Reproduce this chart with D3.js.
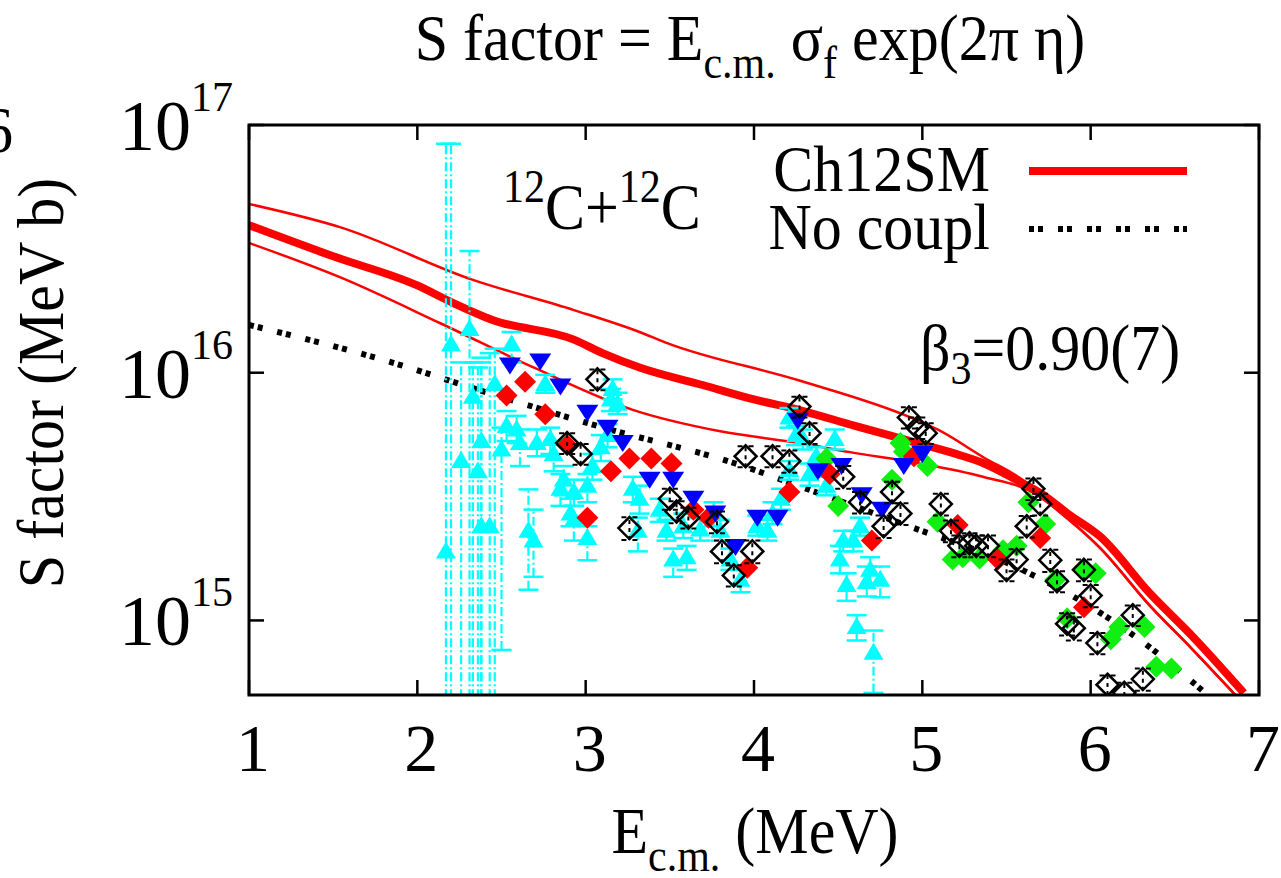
<!DOCTYPE html>
<html><head><meta charset="utf-8">
<script src="https://cdn.jsdelivr.net/npm/d3@7"></script>
<style>
body{margin:0;background:#fff}
svg{display:block}
text{font-family:"Liberation Serif","Times New Roman",serif;fill:#000}
</style>
</head><body><svg id="c" width="1281" height="878"></svg>
<script>
// ---- data (S in units of 1e15 MeV b) ----
const UNIT = 1e15;
const xTicks = [1,2,3,4,5,6,7];
const yTicks = [1, 10, 100];
const yTickExp = ["15","16","17"];

// Ch12SM central (thick) and band (thin)
const ch12Central = [[1.0,39.4],[1.5,29.5],[2.0,22.5],[2.2,19.3],[2.45,16.3],[2.93,13.6],[3.1,12.0],[3.32,10.5],[3.7,8.9],[4.0,7.8],[4.27,7.07],[4.6,6.1],[4.97,5.2],[5.2,4.7],[5.36,4.32],[5.56,3.69],[5.72,3.21],[5.86,2.71],[6.06,2.17],[6.35,1.29],[6.6,0.87],[6.91,0.51]];
const ch12Upper = [[1.0,48],[1.54,38.7],[2.33,23.7],[2.93,17.9],[3.32,14.6],[3.48,13.2],[4.27,9.3],[4.93,6.6],[5.09,5.9],[5.36,4.57],[5.62,3.59],[5.76,2.95],[6.06,1.95],[6.35,1.15],[6.6,0.77],[6.86,0.5]];
const ch12Lower = [[1.0,33.4],[1.54,24.3],[2.14,15.8],[2.69,10.5],[3.28,7.08],[3.8,5.8],[4.27,5.2],[4.57,4.78],[4.97,4.32],[5.36,3.8],[5.66,3.27],[5.8,2.8],[6.06,1.95],[6.35,1.15],[6.6,0.77],[6.86,0.5]];
const noCoupl = [[1.0,15.6],[1.8,11.25],[2.37,8.5],[3.09,6.04],[3.88,4.32],[4.38,3.27],[4.87,2.47],[5.56,1.64],[6.06,1.07],[6.35,0.78],[6.68,0.51]];

// cyan up-triangles: [E, S, low, high]
const cyanData = [
 [2.17,1.9,0.1,84],[2.20,13.0,0.1,84],[2.26,4.4,0.1,11],[2.31,15.0,0.1,31],[2.33,8.0,0.1,11],
 [2.36,4.0,0.1,10.5],[2.38,5.3,0.1,11.5],[2.38,2.4,0.1,11],[2.43,2.4,0.1,12],[2.46,9.0,0.1,12.5],
 [2.50,4.9,0.76,6.0],[2.53,6.1,5.3,7.0],[2.56,13.0,11.0,14.6],[2.59,5.9,5.2,6.7],[2.61,5.2,4.2,5.9],
 [2.66,2.3,1.33,3.38],[2.69,2.1,1.5,2.8],[2.71,5.2,4.6,5.9],[2.76,9.0,8.3,9.8],[2.79,5.4,4.7,6.0],
 [2.81,4.7,4.0,5.3],[2.85,3.4,2.9,3.9],[2.87,3.7,3.2,4.2],[2.91,2.7,2.4,3.1],[2.93,3.3,2.9,3.7],
 [2.93,2.55,2.1,2.9],[3.01,3.5,3.0,3.9],[3.01,2.15,1.75,2.4],[3.04,4.2,3.7,4.7],[3.09,5.0,4.4,5.6],
 [3.13,5.6,5.0,6.2],[3.15,7.8,7.0,8.6],[3.16,8.6,7.8,9.4],[3.19,7.5,6.8,8.3],[3.28,3.4,3.0,3.8],
 [3.31,2.3,1.9,2.6],[3.32,3.1,2.7,3.5],[3.44,2.8,2.5,3.1],[3.48,2.3,2.1,2.55],[3.52,1.76,1.5,1.95],
 [3.58,2.4,2.15,2.7],[3.60,1.8,1.6,2.0],[3.68,2.33,2.1,2.6],[3.76,2.7,2.4,3.0],[3.80,2.3,2.1,2.55],
 [3.86,1.76,1.6,1.95],[3.92,1.46,1.3,1.6],[4.02,2.4,2.2,2.65],[4.08,2.3,2.1,2.55],[4.11,2.7,2.45,3.0],
 [4.16,3.1,2.8,3.4],[4.21,4.05,3.7,4.4],[4.21,6.6,6.0,7.2],[4.25,5.6,5.1,6.1],[4.29,5.4,4.9,5.9],
 [4.37,4.6,4.2,5.0],[4.33,3.9,3.5,4.3],[4.43,3.5,3.2,3.8],[4.48,5.4,4.9,5.9],[4.53,2.1,1.9,2.3],
 [4.59,2.1,1.9,2.3],[4.63,2.4,2.2,2.6],[4.51,1.76,1.55,2.0],[4.55,1.39,1.2,1.55],[4.61,0.94,0.83,1.05],
 [4.67,1.43,1.25,1.65],[4.69,1.6,1.4,1.8],[4.75,1.46,1.24,1.65],[4.71,0.74,0.51,0.91]
];
// red filled diamonds: [E, S]
const redData = [[2.53,8.1],[2.64,9.2],[2.76,6.8],[2.89,5.1],[3.01,2.6],[3.15,4.0],[3.26,4.5],[3.39,4.5],[3.51,4.3],[3.64,2.8],[3.73,2.6],[3.96,1.63],[4.21,3.3],[4.45,3.9],[4.70,2.1],[4.95,4.6],[5.21,2.43],[5.45,1.76],[5.70,2.15],[5.96,1.13]];
// blue down-triangles: [E, S]
const blueData = [[2.55,10.7],[2.73,11.1],[2.85,8.8],[3.01,6.9],[3.13,6.0],[3.22,5.2],[3.38,3.7],[3.52,3.7],[3.64,3.1],[3.77,2.7],[3.89,1.98],[4.02,2.6],[4.14,2.6],[4.26,6.4],[4.38,4.0],[4.52,4.2],[4.64,3.2],[4.76,2.8],[4.89,4.2],[5.00,4.7]];
// green filled diamonds: [E, S]
const greenData = [[4.43,4.5],[4.50,2.9],[4.82,3.7],[4.87,5.2],[4.89,4.8],[5.03,4.2],[5.09,2.5],[5.18,1.76],[5.24,1.8],[5.34,1.78],[5.48,1.92],[5.56,2.0],[5.63,3.0],[5.73,2.45],[5.79,1.46],[5.86,1.02],[5.96,1.62],[6.03,1.55],[6.12,0.84],[6.17,0.94],[6.32,0.94],[6.39,0.65],[6.48,0.64]];
// black open diamonds: [E, S, dS]
const blackData = [[3.07,9.4,0.9],[2.89,5.2,0.5],[2.97,4.7,0.45],[3.26,2.36,0.25],[3.50,3.1,0.3],[3.54,2.75,0.28],[3.61,2.6,0.25],[3.78,2.5,0.25],[3.81,1.9,0.2],[3.88,1.52,0.15],[3.99,1.9,0.2],[3.95,4.6,0.45],[4.11,4.6,0.45],[4.21,4.4,0.45],[4.27,7.3,0.7],[4.33,5.7,0.55],[4.53,3.8,0.4],[4.63,3.0,0.3],[4.77,2.4,0.25],[4.82,3.3,0.33],[4.87,2.7,0.27],[4.92,6.6,0.65],[4.97,6.0,0.6],[5.02,5.7,0.55],[5.11,2.95,0.3],[5.17,2.3,0.23],[5.22,2.0,0.2],[5.28,2.05,0.2],[5.32,2.0,0.2],[5.39,2.0,0.2],[5.50,1.6,0.16],[5.56,1.76,0.18],[5.62,2.4,0.24],[5.66,3.4,0.34],[5.70,2.95,0.3],[5.76,1.75,0.18],[5.80,1.44,0.14],[5.86,0.97,0.1],[5.90,0.93,0.1],[5.96,1.6,0.16],[6.00,1.26,0.13],[6.04,0.81,0.08],[6.25,1.05,0.1],[6.10,0.55,0.05],[6.20,0.51,0.05],[6.31,0.58,0.06]];

// ---- drawing ----
const svg = d3.select("#c");
const L=249, R=1259, T=125, B=695;
const x = d3.scaleLinear().domain([1,7]).range([L,R]);
const y = d3.scaleLog().domain([0.5,100]).range([B,T]);
const FS = 60, SUB = 42, SY = 1.1;

// text helper: vertically stretched serif text
function txt(px, py, size, anchor, rot){
  return svg.append("text")
    .attr("transform", `translate(${px},${py})` + (rot?` rotate(${rot})`:"") + ` scale(1,${SY})`)
    .attr("text-anchor", anchor||"start").attr("font-size", size);
}

svg.append("defs").append("clipPath").attr("id","clip")
  .append("rect").attr("x",L).attr("y",T).attr("width",R-L).attr("height",B-T);

const plot = svg.append("g").attr("clip-path","url(#clip)");
const line = d3.line().x(d=>x(d[0])).y(d=>y(d[1])).curve(d3.curveMonotoneX);

plot.append("path").attr("d",line(ch12Upper)).attr("fill","none").attr("stroke","#ff0000").attr("stroke-width",2.5);
plot.append("path").attr("d",line(ch12Lower)).attr("fill","none").attr("stroke","#ff0000").attr("stroke-width",2.5);
plot.append("path").attr("d",line(ch12Central)).attr("fill","none").attr("stroke","#ff0000").attr("stroke-width",8);
plot.append("path").attr("d",line(noCoupl)).attr("fill","none").attr("stroke","#000").attr("stroke-width",6)
  .attr("stroke-dasharray","5,4,5,15");

// cyan error bars
const cy = plot.append("g");
cyanData.forEach(d=>{
  const xx=x(d[0]);
  cy.append("line").attr("x1",xx).attr("x2",xx).attr("y1",y(d[2])).attr("y2",y(d[3]))
    .attr("stroke","#00ffff").attr("stroke-width",2.2).attr("stroke-dasharray","9,3,2,3");
  [d[2],d[3]].forEach(v=>{
    cy.append("line").attr("x1",xx-10).attr("x2",xx+10).attr("y1",y(v)).attr("y2",y(v))
      .attr("stroke","#00ffff").attr("stroke-width",2.5);
  });
});
const triUp = (cx,cyy)=>`M${cx},${cyy-10}L${cx+10},${cyy+7}L${cx-10},${cyy+7}Z`;
const triDn = (cx,cyy)=>`M${cx},${cyy+9}L${cx+11},${cyy-8}L${cx-11},${cyy-8}Z`;
const diam = (cx,cyy,r)=>`M${cx},${cyy-r}L${cx+r},${cyy}L${cx},${cyy+r}L${cx-r},${cyy}Z`;

plot.append("g").selectAll("path").data(cyanData).join("path")
  .attr("d",d=>triUp(x(d[0]),y(d[1]))).attr("fill","#00ffff");
plot.append("g").selectAll("path").data(greenData).join("path")
  .attr("d",d=>diam(x(d[0]),y(d[1]),11)).attr("fill","#11ee11");
plot.append("g").selectAll("path").data(redData).join("path")
  .attr("d",d=>diam(x(d[0]),y(d[1]),11)).attr("fill","#ff0000");
plot.append("g").selectAll("path").data(blueData).join("path")
  .attr("d",d=>triDn(x(d[0]),y(d[1]))).attr("fill","#0000ff");

// black open diamonds with dashed error bars
const bk = plot.append("g");
blackData.forEach(d=>{
  const xx=x(d[0]);
  const y1=y(d[1]-d[2]), y2=y(d[1]+d[2]);
  bk.append("line").attr("x1",xx).attr("x2",xx).attr("y1",y1).attr("y2",y2)
    .attr("stroke","#000").attr("stroke-width",2).attr("stroke-dasharray","4,4");
  [y1,y2].forEach(v=>{
    bk.append("line").attr("x1",xx-8).attr("x2",xx+8).attr("y1",v).attr("y2",v)
      .attr("stroke","#000").attr("stroke-width",2).attr("stroke-dasharray","5,6");
  });
  bk.append("path").attr("d",diam(xx,y(d[1]),11)).attr("fill","none").attr("stroke","#000").attr("stroke-width",2.5);
});

// frame and ticks
svg.append("rect").attr("x",L).attr("y",T).attr("width",R-L).attr("height",B-T)
  .attr("fill","none").attr("stroke","#000").attr("stroke-width",3);
const ax = svg.append("g");
xTicks.forEach(t=>{
  const xx=x(t);
  ax.append("line").attr("x1",xx).attr("x2",xx).attr("y1",B).attr("y2",B-15).attr("stroke","#000").attr("stroke-width",2.5);
  ax.append("line").attr("x1",xx).attr("x2",xx).attr("y1",T).attr("y2",T+15).attr("stroke","#000").attr("stroke-width",2.5);
  ax.append("text").attr("x",xx+4).attr("y",771).attr("text-anchor","middle").attr("font-size",68).text(t);
});
yTicks.forEach((t,i)=>{
  const yy=y(t);
  ax.append("line").attr("x1",L).attr("x2",L+15).attr("y1",yy).attr("y2",yy).attr("stroke","#000").attr("stroke-width",2.5);
  ax.append("line").attr("x1",R).attr("x2",R-15).attr("y1",yy).attr("y2",yy).attr("stroke","#000").attr("stroke-width",2.5);
  const tx = ax.append("text").attr("x",233).attr("y",yy+25).attr("text-anchor","end").attr("font-size",72);
  tx.append("tspan").text("10");
  tx.append("tspan").attr("dy",-39).attr("font-size",42).text(yTickExp[i]);
});

// title
const title = txt(750, 60, FS, "middle");
title.append("tspan").text("S factor = E");
title.append("tspan").attr("dy",16).attr("font-size",SUB).text("c.m.");
title.append("tspan").attr("dy",-16).text(" σ");
title.append("tspan").attr("dy",16).attr("font-size",SUB).text("f");
title.append("tspan").attr("dy",-16).text(" exp(2π η)");

// x label
const xl = txt(755, 853, FS, "middle");
xl.append("tspan").text("E");
xl.append("tspan").attr("dy",16).attr("font-size",SUB).text("c.m.");
xl.append("tspan").attr("dy",-16).text(" (MeV)");

// y label
txt(63, 383, FS, "middle", -90).text("S factor (MeV b)");

// partial label from neighbouring panel
txt(-17, 152, FS, "start").text("6");

// system label
const sys = txt(503, 229, FS, "start");
sys.append("tspan").attr("dy",-25).attr("font-size",SUB).text("12");
sys.append("tspan").attr("dy",25).text("C+");
sys.append("tspan").attr("dy",-25).attr("font-size",SUB).text("12");
sys.append("tspan").attr("dy",25).text("C");

// legend
txt(990, 191, FS, "end").text("Ch12SM");
svg.append("line").attr("x1",1029).attr("x2",1187).attr("y1",171).attr("y2",171).attr("stroke","#ff0000").attr("stroke-width",8);
txt(990, 249, FS, "end").text("No coupl");
svg.append("line").attr("x1",1029).attr("x2",1187).attr("y1",229).attr("y2",229).attr("stroke","#000").attr("stroke-width",6).attr("stroke-dasharray","5,4,5,15");

// beta3 label
const b3 = txt(920, 370, FS, "start");
b3.append("tspan").text("β");
b3.append("tspan").attr("dy",13).attr("font-size",SUB).text("3");
b3.append("tspan").attr("dy",-13).text("=0.90(7)");
</script>
</body></html>
